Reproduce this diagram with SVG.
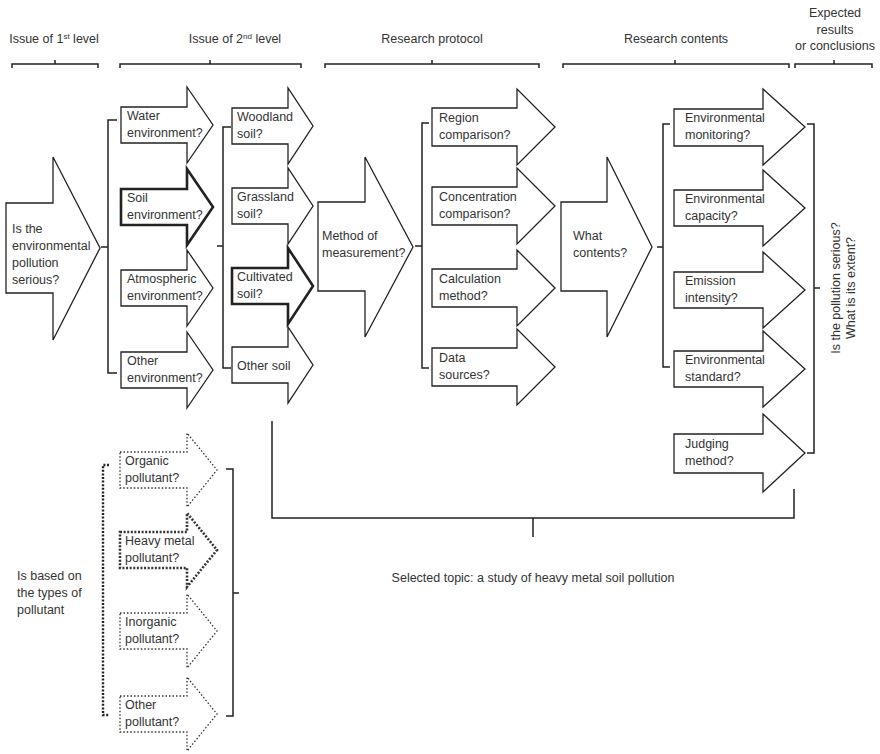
<svg xmlns="http://www.w3.org/2000/svg" width="880" height="754" viewBox="0 0 880 754">
  <style>
    text { font-family: "Liberation Sans", Arial, sans-serif; font-size: 12.5px; fill: #333; }
    .ar { fill: #fff; stroke: #222; stroke-width: 1.3; stroke-linejoin: miter; }
    .bold { stroke-width: 2.6; }
    .dot { fill: #fff; stroke: #333; stroke-width: 1.3; stroke-dasharray: 1.5 2; }
    .dotb { stroke-width: 2.6; stroke-dasharray: 2 1.6; }
    .br { fill: none; stroke: #222; stroke-width: 1.5; }
    .brd { fill: none; stroke: #222; stroke-width: 2.4; stroke-dasharray: 2 1.6; }
    .mid { text-anchor: middle; }
  </style>
  <rect width="880" height="754" fill="#fff"/>

  <!-- column headings -->
  <g id="headings">
    <text class="mid" x="54" y="43">Issue of 1<tspan dy="-4" font-size="8">st</tspan><tspan dy="4"> level</tspan></text>
    <text class="mid" x="235" y="43">Issue of 2<tspan dy="-4" font-size="8">nd</tspan><tspan dy="4"> level</tspan></text>
    <text class="mid" x="432" y="43">Research protocol</text>
    <text class="mid" x="676" y="43">Research contents</text>
    <text class="mid" x="835" y="17">Expected</text>
    <text class="mid" x="835" y="34">results</text>
    <text class="mid" x="835" y="50">or conclusions</text>
  </g>

  <!-- brackets joining the columns -->
  <g id="connectors">
    <path class="br" d="M12,68 V64 H98 V68 M55,64 V60"/>
    <path class="br" d="M120,68 V64 H301 V68 M210,64 V60"/>
    <path class="br" d="M325,68 V64 H539 V68 M432,64 V60"/>
    <path class="br" d="M563,68 V64 H789 V68 M675,64 V60"/>
    <path class="br" d="M795,68 V64 H872 V68 M834,64 V60"/>
    <path class="br" d="M117,120 H108 V373 H117 M108,247 H101"/>
    <path class="br" d="M231,127 H223 V368 H231 M223,246 H217"/>
    <path class="br" d="M429,123 H422 V368 H429 M422,246 H415"/>
    <path class="br" d="M670,124 H663 V367 H670 M663,247 H657"/>
    <path class="br" d="M807,124 H814 V453 H807 M814,288 H820"/>
    <path class="br" d="M226,469 H233 V716 H226 M233,593 H239"/>
    <path class="brd" d="M109,465 H103 V715 H109"/>
    <path class="br" d="M272,421 V518 H794 V489 M533,518 V537"/>
  </g>

  <!-- level 1 -->
  <g id="n-serious">
    <path class="ar" d="M6,203 H53 V157 L100,248 L53,340 V293 H6 Z"/>
    <text x="12" y="233">Is the</text>
    <text x="12" y="250">environmental</text>
    <text x="12" y="267">pollution</text>
    <text x="12" y="284">serious?</text>
  </g>

  <!-- level 2: environments -->
  <g id="n-water">
    <path class="ar" d="M121,107 H187 V87 L213,125 L187,163 V143 H121 Z"/>
    <text x="127" y="120">Water</text>
    <text x="127" y="137">environment?</text>
  </g>
  <g id="n-soil-env">
    <path class="ar bold" d="M121,189 H187 V169 L213,207 L187,245 V225 H121 Z"/>
    <text x="127" y="202">Soil</text>
    <text x="127" y="219">environment?</text>
  </g>
  <g id="n-atmos">
    <path class="ar" d="M121,270 H187 V250 L213,288 L187,326 V306 H121 Z"/>
    <text x="127" y="283">Atmospheric</text>
    <text x="127" y="300">environment?</text>
  </g>
  <g id="n-other-env">
    <path class="ar" d="M121,352 H187 V332 L213,370 L187,408 V388 H121 Z"/>
    <text x="127" y="365">Other</text>
    <text x="127" y="382">environment?</text>
  </g>

  <!-- level 2: soils -->
  <g id="n-woodland">
    <path class="ar" d="M232,108 H288 V88 L313,126 L288,164 V144 H232 Z"/>
    <text x="237" y="121">Woodland</text>
    <text x="237" y="138">soil?</text>
  </g>
  <g id="n-grassland">
    <path class="ar" d="M232,188 H288 V168 L313,206 L288,244 V224 H232 Z"/>
    <text x="237" y="201">Grassland</text>
    <text x="237" y="218">soil?</text>
  </g>
  <g id="n-cultivated">
    <path class="ar bold" d="M232,268 H288 V248 L313,286 L288,324 V304 H232 Z"/>
    <text x="237" y="281">Cultivated</text>
    <text x="237" y="298">soil?</text>
  </g>
  <g id="n-other-soil">
    <path class="ar" d="M232,347 H288 V327 L313,365 L288,403 V383 H232 Z"/>
    <text x="237" y="370">Other soil</text>
  </g>

  <!-- research protocol -->
  <g id="n-method">
    <path class="ar" d="M318,202 H365 V157 L413,247 L365,337 V291 H318 Z"/>
    <text x="322" y="240">Method of</text>
    <text x="322" y="257">measurement?</text>
  </g>
  <g id="n-region">
    <path class="ar" d="M432,108 H517 V89 L555,127 L517,165 V146 H432 Z"/>
    <text x="439" y="122">Region</text>
    <text x="439" y="139">comparison?</text>
  </g>
  <g id="n-concentration">
    <path class="ar" d="M432,187 H517 V168 L555,206 L517,244 V225 H432 Z"/>
    <text x="439" y="201">Concentration</text>
    <text x="439" y="218">comparison?</text>
  </g>
  <g id="n-calculation">
    <path class="ar" d="M432,269 H517 V250 L555,288 L517,326 V307 H432 Z"/>
    <text x="439" y="283">Calculation</text>
    <text x="439" y="300">method?</text>
  </g>
  <g id="n-data">
    <path class="ar" d="M432,348 H517 V329 L555,367 L517,405 V386 H432 Z"/>
    <text x="439" y="362">Data</text>
    <text x="439" y="379">sources?</text>
  </g>

  <!-- research contents -->
  <g id="n-what">
    <path class="ar" d="M561,202 H607 V157 L652,247 L607,337 V291 H561 Z"/>
    <text x="573" y="240">What</text>
    <text x="573" y="257">contents?</text>
  </g>
  <g id="n-monitoring">
    <path class="ar" d="M674,109 H763 V89 L805,127 L763,165 V146 H674 Z"/>
    <text x="685" y="122">Environmental</text>
    <text x="685" y="139">monitoring?</text>
  </g>
  <g id="n-capacity">
    <path class="ar" d="M674,190 H763 V170 L805,208 L763,246 V226 H674 Z"/>
    <text x="685" y="203">Environmental</text>
    <text x="685" y="220">capacity?</text>
  </g>
  <g id="n-emission">
    <path class="ar" d="M674,272 H763 V252 L805,290 L763,328 V308 H674 Z"/>
    <text x="685" y="285">Emission</text>
    <text x="685" y="302">intensity?</text>
  </g>
  <g id="n-standard">
    <path class="ar" d="M674,351 H763 V331 L805,369 L763,407 V387 H674 Z"/>
    <text x="685" y="364">Environmental</text>
    <text x="685" y="381">standard?</text>
  </g>
  <g id="n-judging">
    <path class="ar" d="M674,434 H763 V414 L805,453 L763,492 V473 H674 Z"/>
    <text x="685" y="448">Judging</text>
    <text x="685" y="465">method?</text>
  </g>

  <!-- expected result -->
  <g id="n-result">
    <text class="mid" x="840" y="288" transform="rotate(-90 840 288)">Is the pollution serious?</text>
    <text class="mid" x="855" y="288" transform="rotate(-90 855 288)">What is its extent?</text>
  </g>

  <!-- pollutant types -->
  <g id="n-based">
    <text x="17" y="580">Is based on</text>
    <text x="17" y="597">the types of</text>
    <text x="17" y="614">pollutant</text>
  </g>
  <g id="n-organic">
    <path class="dot" d="M120,452 H187 V433 L217,470 L187,507 V488 H120 Z"/>
    <text x="125" y="465">Organic</text>
    <text x="125" y="482">pollutant?</text>
  </g>
  <g id="n-heavy">
    <path class="dot dotb" d="M120,532 H187 V513 L217,550 L187,587 V568 H120 Z"/>
    <text x="125" y="545">Heavy metal</text>
    <text x="125" y="562">pollutant?</text>
  </g>
  <g id="n-inorganic">
    <path class="dot" d="M120,613 H187 V594 L217,631 L187,668 V649 H120 Z"/>
    <text x="125" y="626">Inorganic</text>
    <text x="125" y="643">pollutant?</text>
  </g>
  <g id="n-other-pollutant">
    <path class="dot" d="M120,696 H187 V677 L217,714 L187,751 V732 H120 Z"/>
    <text x="125" y="709">Other</text>
    <text x="125" y="726">pollutant?</text>
  </g>

  <!-- selected topic -->
  <g id="n-topic">
    <text class="mid" x="533" y="582" font-size="12">Selected topic: a study of heavy metal soil pollution</text>
  </g>
</svg>
